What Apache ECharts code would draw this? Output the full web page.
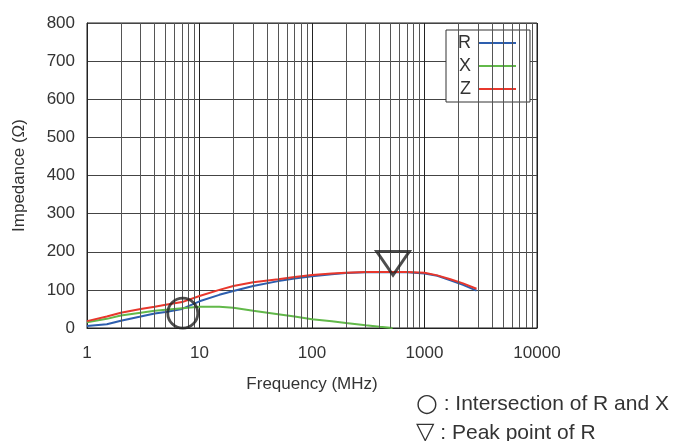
<!DOCTYPE html>
<html><head><meta charset="utf-8">
<script src="https://cdn.jsdelivr.net/npm/echarts@6/dist/echarts.min.js"></script>
<style>html,body{margin:0;padding:0;background:#fff}#c{width:690px;height:441px}</style>
</head><body><div id="c"></div>
<script>
// Frequencies (MHz) and impedance values (Ohm)
const freqR = [1,1.5,2,3,4,5,7,10,15,20,30,50,70,100,150,200,300,500,700,1000,1300,1700,2200,2900];
const valR  = [5,10,19,30,38,42,50,70,87,97,110,123,130,136,141,144,146,147,146,143,137,125,113,98];
const freqX = [1,1.5,2,3,4,5,7,10,15,20,30,50,70,100,150,200,300,400,520];
const valX  = [15,24,33,40,45,48,52,56,56,53,45,36,30,23,18,13,7,3,0];
const freqZ = [1,1.5,2,3,4,5,7,10,15,20,30,50,70,100,150,200,300,500,700,1000,1300,1700,2200,2900];
const valZ  = [18,30,40,50,56,61,68,84,100,110,120,128,134,139,143,145,147,147,147,145,138,128,117,103];
const minorTicks = [2,3,4,5,6,7,8,9,20,30,40,50,60,70,80,90,200,300,400,500,600,700,800,900,2000,3000,4000,5000,6000,7000,8000,9000];
const intersection = [7.1, 39];
const peak = [525, 170];
const noteSymbols = ['\u25CB', '\u25BD'];
const noteTexts = [': Intersection of R and X', ': Peak point of R'];

const pair = (f, v) => f.map((x, i) => [x, v[i]]);
const font = 'Liberation Sans';
const chart = echarts.init(document.getElementById('c'));
const note = (i, top) => ({
  type: 'text', left: 416, top: top,
  style: {
    text: '{s|' + noteSymbols[i] + '} ' + noteTexts[i],
    fontSize: 21, fill: '#333', fontFamily: font,
    rich: {s: {fontSize: i === 0 ? 25 : 24, fill: '#333', fontFamily: 'DejaVu Sans'}}
  }
});
chart.setOption({
  animation: false,
  textStyle: {fontFamily: font},
  grid: {left: 87, right: 153, top: 23, bottom: 113, show: true, borderColor: '#222', borderWidth: 1},
  legend: {
    data: ['R','X','Z'], orient: 'vertical', left: 446, top: 30, align: 'right',
    backgroundColor: '#fff', borderColor: '#333', borderWidth: 1, padding: [4, 14, 4, 12],
    icon: 'rect', itemWidth: 37, itemHeight: 2, itemGap: 5,
    textStyle: {fontSize: 18, color: '#333', fontFamily: font, padding: [0, 3, 0, 0]}
  },
  xAxis: {
    type: 'log', logBase: 10, min: 1, max: 10000,
    name: 'Frequency (MHz)', nameLocation: 'middle', nameGap: 48,
    nameTextStyle: {fontSize: 17, color: '#333'},
    axisLine: {lineStyle: {color: '#222'}}, axisTick: {show: false},
    axisLabel: {fontSize: 17, color: '#333', margin: 17, formatter: v => String(v)},
    splitLine: {show: true, lineStyle: {color: '#222', width: 1}},
    minorTick: {show: false}, minorSplitLine: {show: false}
  },
  yAxis: {
    type: 'value', min: 0, max: 800, interval: 100,
    name: 'Impedance (\u03A9)', nameLocation: 'middle', nameGap: 59,
    nameTextStyle: {fontSize: 17, color: '#333'},
    axisLine: {show: true, lineStyle: {color: '#222'}}, axisTick: {show: false},
    axisLabel: {fontSize: 17, color: '#333', margin: 12},
    splitLine: {show: true, lineStyle: {color: '#444', width: 1}}
  },
  series: [
    {name: 'grid', type: 'line', data: [], silent: true,
     markLine: {silent: true, symbol: 'none', animation: false, label: {show: false},
       lineStyle: {color: '#555', width: 1, type: 'solid'},
       data: minorTicks.map(t => ({xAxis: t}))}},
    {name: 'R', type: 'line', data: pair(freqR, valR), showSymbol: false, color: '#2d5eae', lineStyle: {width: 2}, z: 3},
    {name: 'X', type: 'line', data: pair(freqX, valX), showSymbol: false, color: '#62b94a', lineStyle: {width: 2}, z: 3},
    {name: 'Z', type: 'line', data: pair(freqZ, valZ), showSymbol: false, color: '#e8372c', lineStyle: {width: 2}, z: 4},
    {name: 'marks', type: 'scatter', z: 5, silent: true,
     data: [
       {value: intersection, symbol: 'circle', symbolSize: 30},
       {value: peak, symbol: 'path://M0,0L34,0L17,24Z', symbolSize: [33, 24]}
     ],
     itemStyle: {color: 'rgba(0,0,0,0)', borderColor: '#222', borderWidth: 2.8}}
  ],
  graphic: [note(0, 392), note(1, 421)]
});
</script></body></html>
